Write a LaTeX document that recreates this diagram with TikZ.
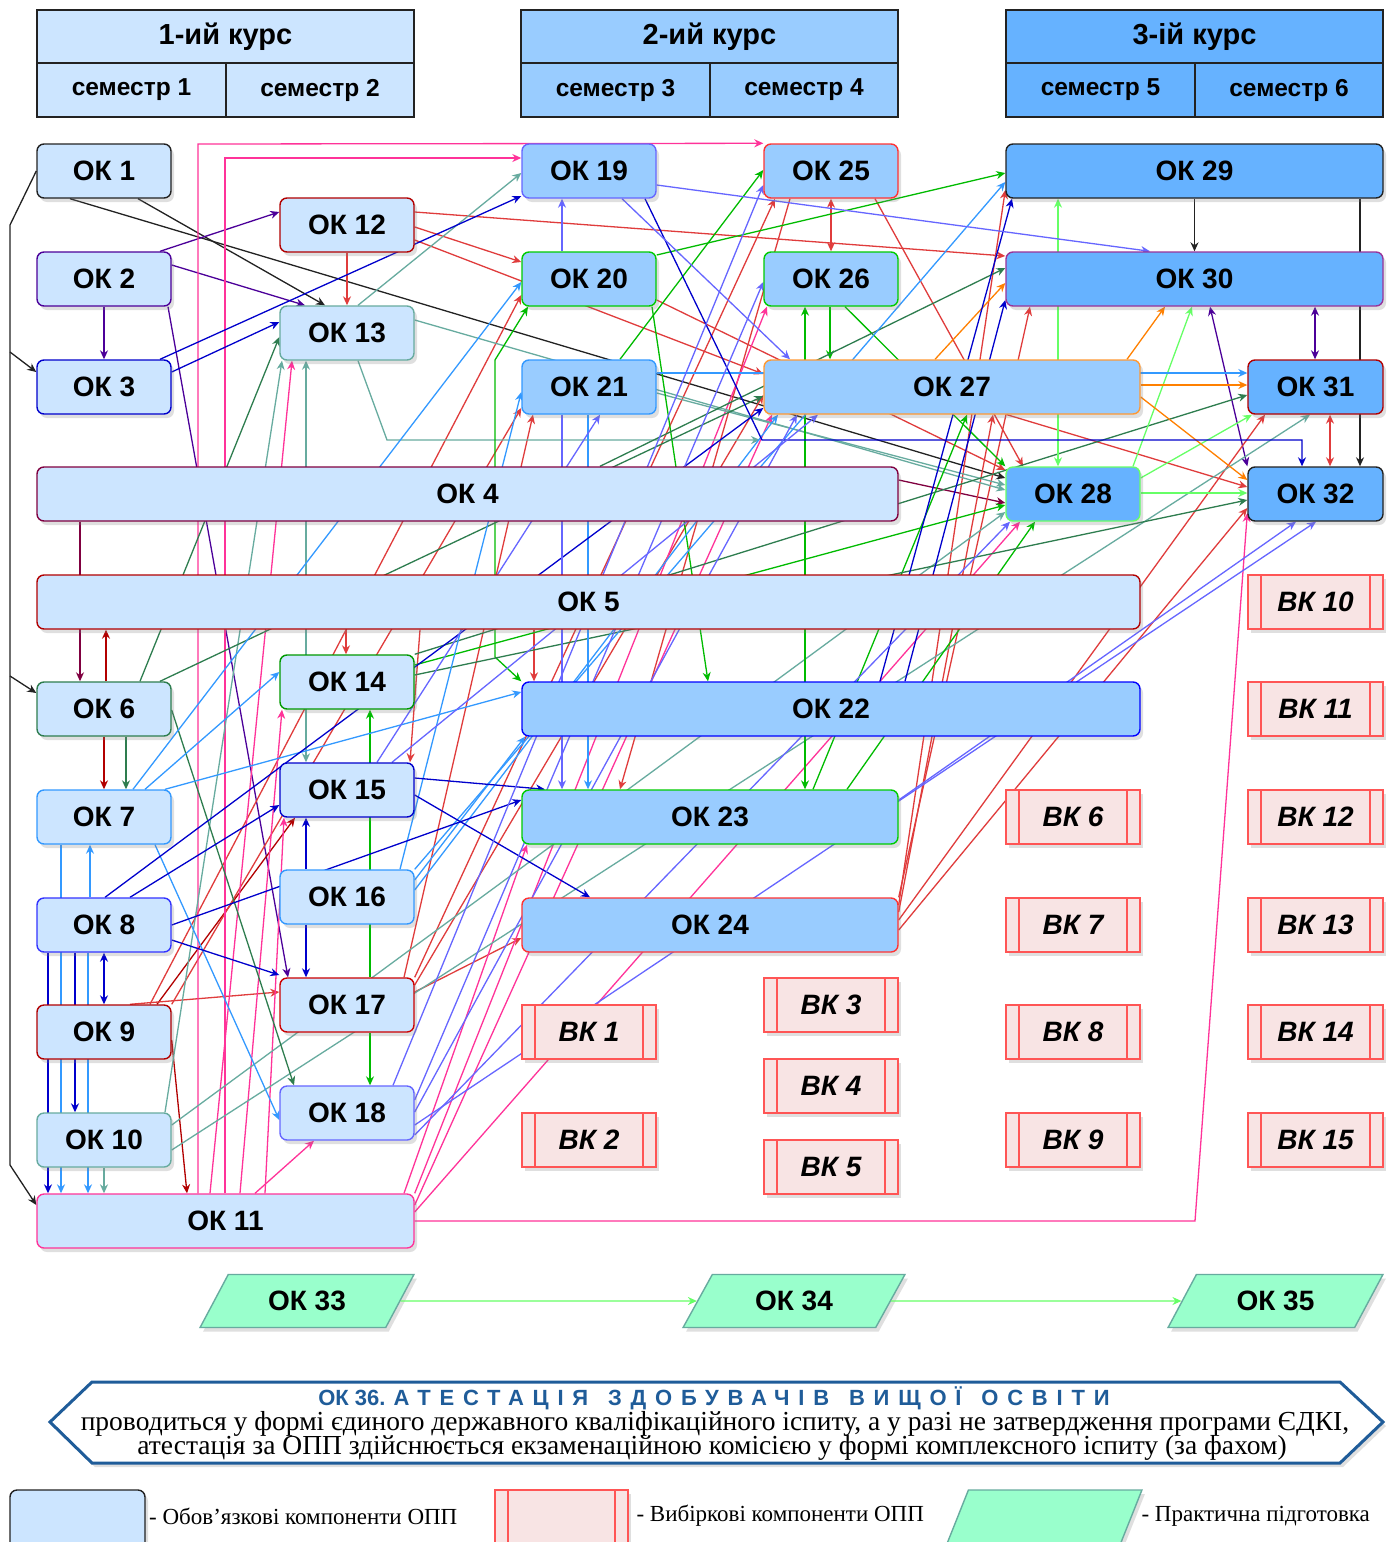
\documentclass[tikz,border=0pt]{standalone}
\usepackage{fontspec}
\setmainfont{Liberation Sans}
\newfontfamily\serifnote{Liberation Serif}
\newfontfamily\spacedfont[LetterSpace=40]{Liberation Sans}
\usetikzlibrary{positioning,arrows.meta,shapes.geometric,shadows,backgrounds}

\definecolor{BoxLight}{HTML}{CCE5FF}
\definecolor{BoxMid}{HTML}{99CCFF}
\definecolor{BoxDeep}{HTML}{66B2FF}
\definecolor{VkFill}{HTML}{F8E4E4}
\definecolor{VkLine}{HTML}{FF5555}
\definecolor{PracFill}{HTML}{99FFCC}
\definecolor{PracLine}{HTML}{67AB9F}
\definecolor{HexBlue}{HTML}{1F5C99}
\definecolor{LnBlack}{HTML}{222222}
\definecolor{LnPurple}{HTML}{4C0099}
\definecolor{LnMaroon}{HTML}{800040}
\definecolor{LnDarkRed}{HTML}{B20000}
\definecolor{LnRed}{HTML}{E03C3C}
\definecolor{LnPink}{HTML}{FF3399}
\definecolor{LnBlue}{HTML}{0000CC}
\definecolor{LnViolet}{HTML}{6666FF}
\definecolor{LnLightBlue}{HTML}{3399FF}
\definecolor{LnGreen}{HTML}{00BB00}
\definecolor{LnDarkGreen}{HTML}{2E7D4F}
\definecolor{LnTeal}{HTML}{67AB9F}
\definecolor{LnLightGreen}{HTML}{66FF66}
\definecolor{LnOrange}{HTML}{FF8000}

\tikzset{
  okbox/.style={draw=#1, line width=1.4pt, rounded corners=7pt, fill=BoxLight,
    minimum width=134pt, minimum height=54pt, inner sep=0pt,
    font=\fontsize{28}{30}\selectfont\bfseries,
    drop shadow={shadow xshift=3pt, shadow yshift=-4pt, opacity=0.25}},
  okmid/.style={okbox=#1, fill=BoxMid},
  okdeep/.style={okbox=#1, fill=BoxDeep},
  vkbox/.style={draw=VkLine, line width=1.4pt, fill=VkFill,
    minimum width=134pt, minimum height=54pt, inner sep=0pt,
    font=\fontsize{28}{30}\selectfont\bfseries\itshape,
    drop shadow={shadow xshift=3pt, shadow yshift=-4pt, opacity=0.25},
    path picture={\draw[VkLine, line width=1.2pt]
      ([xshift=13pt]path picture bounding box.north west) -- ([xshift=13pt]path picture bounding box.south west)
      ([xshift=-13pt]path picture bounding box.north east) -- ([xshift=-13pt]path picture bounding box.south east);}},
  prac/.style={trapezium, trapezium left angle=55, trapezium right angle=125,
    trapezium stretches=true, draw=PracLine, fill=PracFill, line width=1.4pt,
    minimum width=214pt, minimum height=53pt, inner sep=0pt,
    font=\fontsize{28}{30}\selectfont\bfseries,
    drop shadow={shadow xshift=3pt, shadow yshift=-4pt, opacity=0.25}},
  hdr/.style={draw=LnBlack, line width=2.2pt, inner sep=0pt, outer sep=0pt,
    minimum height=54pt, font=\fontsize{24.5}{26}\selectfont\bfseries},
  ln/.style={line width=1.3pt, -{Stealth[length=9pt,width=8pt]}},
  lnn/.style={line width=1.3pt, {Stealth[length=9pt,width=8pt]}-{Stealth[length=9pt,width=8pt]}},
  legtext/.style={anchor=west, font=\serifnote\fontsize{23}{25}\selectfont},
  notetext/.style={inner sep=0pt, font=\serifnote\fontsize{27.5}{28}\selectfont},
}

\begin{document}
\begin{tikzpicture}[x=1pt, y=-1pt]
  \useasboundingbox (0,0) rectangle (1395,1542);

  % Course headers
  \begin{scope}[drop shadow={shadow xshift=3pt, shadow yshift=-4pt, opacity=0.25}]
    \node[hdr, fill=BoxLight, minimum width=377pt, minimum height=53pt,
      font=\fontsize{29}{31}\selectfont\bfseries] (kurs1) at (225.5,36.5) {1-ий курс};
    \node[hdr, fill=BoxLight, minimum width=189pt, anchor=north west] (sem1) at (kurs1.south west) {семестр 1};
    \node[hdr, fill=BoxLight, minimum width=188pt, right=0pt of sem1] (sem2) {семестр 2};
    \node[hdr, fill=BoxMid, minimum width=377pt, minimum height=53pt,
      font=\fontsize{29}{31}\selectfont\bfseries] (kurs2) at (709.5,36.5) {2-ий курс};
    \node[hdr, fill=BoxMid, minimum width=189pt, anchor=north west] (sem3) at (kurs2.south west) {семестр 3};
    \node[hdr, fill=BoxMid, minimum width=188pt, right=0pt of sem3] (sem4) {семестр 4};
    \node[hdr, fill=BoxDeep, minimum width=377pt, minimum height=53pt,
      font=\fontsize{29}{31}\selectfont\bfseries] (kurs3) at (1194.5,36.5) {3-ій курс};
    \node[hdr, fill=BoxDeep, minimum width=189pt, anchor=north west] (sem5) at (kurs3.south west) {семестр 5};
    \node[hdr, fill=BoxDeep, minimum width=188pt, right=0pt of sem5] (sem6) {семестр 6};
  \end{scope}

  % Semester 1
  \node[okbox=LnBlack] (ok1) at (104,171) {ОК 1};
  \node[okbox=LnPurple] (ok2) at (104,279) {ОК 2};
  \node[okbox=LnBlue] (ok3) at (104,387) {ОК 3};
  \node[okbox=LnMaroon, minimum width=861pt] (ok4) at (467.5,494) {ОК 4};
  \node[okbox={red!70!black}, minimum width=1103pt] (ok5) at (588.5,602) {ОК 5};
  \node[okbox=LnDarkGreen] (ok6) at (104,709) {ОК 6};
  \node[okbox=LnLightBlue] (ok7) at (104,817) {ОК 7};
  \node[okbox={blue!80}] (ok8) at (104,925) {ОК 8};
  \node[okbox={red!70!black}] (ok9) at (104,1032) {ОК 9};
  \node[okbox=LnTeal] (ok10) at (104,1140) {ОК 10};
  \node[okbox=LnPink, minimum width=377pt] (ok11) at (225.5,1221) {ОК 11};

  % Semester 2
  \node[okbox={red!70!black}] (ok12) at (347,225) {ОК 12};
  \node[okbox=LnTeal] (ok13) at (347,333) {ОК 13};
  \node[okbox={green!60!black}] (ok14) at (347,682) {ОК 14};
  \node[okbox={blue!80!black}] (ok15) at (347,790) {ОК 15};
  \node[okbox=LnLightBlue] (ok16) at (347,897) {ОК 16};
  \node[okbox={red!80!black}] (ok17) at (347,1005) {ОК 17};
  \node[okbox=LnViolet] (ok18) at (347,1113) {ОК 18};

  % Semesters 3 and 4
  \node[okmid=LnViolet] (ok19) at (589,171) {ОК 19};
  \node[okmid={green!80!black}] (ok20) at (589,279) {ОК 20};
  \node[okmid=LnLightBlue] (ok21) at (589,387) {ОК 21};
  \node[okmid={blue}, minimum width=618pt] (ok22) at (831,709) {ОК 22};
  \node[okmid={green!80!black}, minimum width=376pt] (ok23) at (710,817) {ОК 23};
  \node[okmid={red!80}, minimum width=376pt] (ok24) at (710,925) {ОК 24};
  \node[okmid={red!80}] (ok25) at (831,171) {ОК 25};
  \node[okmid={green!80!black}] (ok26) at (831,279) {ОК 26};
  \node[okmid={orange!80}, minimum width=376pt] (ok27) at (952,387) {ОК 27};

  % Semesters 5 and 6
  \node[okdeep=LnLightGreen] (ok28) at (1073,494) {ОК 28};
  \node[okdeep=LnBlack, minimum width=377pt] (ok29) at (1194.5,171) {ОК 29};
  \node[okdeep={violet!80}, minimum width=377pt] (ok30) at (1194.5,279) {ОК 30};
  \node[okdeep={red!70!black}, minimum width=135pt] (ok31) at (1315.5,387) {ОК 31};
  \node[okdeep=LnBlack, minimum width=135pt] (ok32) at (1315.5,494) {ОК 32};

  % Elective components
  \node[vkbox] (vk1) at (589,1032) {ВК 1};
  \node[vkbox] (vk2) at (589,1140) {ВК 2};
  \node[vkbox] (vk3) at (831,1005) {ВК 3};
  \node[vkbox] (vk4) at (831,1086) {ВК 4};
  \node[vkbox] (vk5) at (831,1167) {ВК 5};
  \node[vkbox] (vk6) at (1073,817) {ВК 6};
  \node[vkbox] (vk7) at (1073,925) {ВК 7};
  \node[vkbox] (vk8) at (1073,1032) {ВК 8};
  \node[vkbox] (vk9) at (1073,1140) {ВК 9};
  \node[vkbox, minimum width=135pt] (vk10) at (1315.5,602) {ВК 10};
  \node[vkbox, minimum width=135pt] (vk11) at (1315.5,709) {ВК 11};
  \node[vkbox, minimum width=135pt] (vk12) at (1315.5,817) {ВК 12};
  \node[vkbox, minimum width=135pt] (vk13) at (1315.5,925) {ВК 13};
  \node[vkbox, minimum width=135pt] (vk14) at (1315.5,1032) {ВК 14};
  \node[vkbox, minimum width=135pt] (vk15) at (1315.5,1140) {ВК 15};

  % Practical training
  \node[prac] (ok33) at (307,1301) {ОК 33};
  \node[prac, minimum width=222pt] (ok34) at (794,1301) {ОК 34};
  \node[prac, minimum width=215pt] (ok35) at (1275.5,1301) {ОК 35};
  \draw[ln, LnLightGreen] (ok33.east) -- (ok34.west);
  \draw[ln, LnLightGreen] (ok34.east) -- (ok35.west);

  % Attestation banner
  \draw[HexBlue, line width=3pt, fill=white,
    drop shadow={shadow xshift=3pt, shadow yshift=-4pt, opacity=0.25}]
    (50,1422) -- (92,1382) -- (1340,1382) -- (1383,1422) -- (1340,1463) -- (92,1463) -- cycle;
  \node[inner sep=0pt, text=HexBlue, font=\fontsize{22}{24}\selectfont\bfseries] (attTitle) at (714,1398)
    {ОК 36. {\spacedfont\bfseries АТЕСТАЦІЯ\hspace{0.9em}ЗДОБУВАЧІВ\hspace{0.9em}ВИЩОЇ\hspace{0.9em}ОСВІТИ}};
  \node[notetext] (attLineA) at (715,1424)
    {проводиться у формі єдиного державного кваліфікаційного іспиту, а у разі не затвердження програми ЄДКІ,};
  \node[notetext] (attLineB) at (712,1448)
    {атестація за ОПП здійснюється екзаменаційною комісією у формі комплексного іспиту (за фахом)};

  % Legend
  \node[okbox=LnBlack, minimum width=135pt, minimum height=64pt] (legOk) at (77.5,1522) {};
  \node[legtext] (legOkText) at (legOk.east |- 0,1516) {- Обов’язкові компоненти ОПП};
  \node[vkbox, minimum width=133pt, minimum height=64pt] (legVk) at (561.5,1522) {};
  \node[legtext] (legVkText) at (633,1516) {- Вибіркові компоненти ОПП};
  \node[prac, minimum width=200pt, minimum height=66pt] (legPrac) at (1042,1523) {\phantom{ОК 33}};
  \node[legtext] (legPracText) at (1138,1516) {- Практична підготовка};

  \coordinate (busTop) at (10,225);
  \coordinate (busEnd) at (10,1165);
  \coordinate (bus3) at (10,352);
  \coordinate (bus6) at (10,676);
  \coordinate (tealEnd) at (760,440);

  \begin{scope}[on background layer]
    \fill[white] (0,0) rectangle (1395,1542);
    % black
    \draw[ln, LnBlack] (ok1.west) -- (busTop) -- (busEnd) -- (ok11.west |- 0,1205);
    \draw[ln, LnBlack] (bus3) -- (ok3.west |- 0,372);
    \draw[ln, LnBlack] (bus6) -- (ok6.west |- 0,693);
    \draw[ln, LnBlack] (138,0 |- ok1.south) -- (325,0 |- ok13.north);
    \draw[ln, LnBlack] (70,0 |- ok1.south) -- (ok28.west |- 0,478);
    \draw[ln, LnBlack] (ok29.south) -- (ok30.north);
    \draw[ln, LnBlack] (1360,0 |- ok29.south) -- (1360,0 |- ok32.north);
    % purple
    \draw[ln, LnPurple] (160,0 |- ok2.north) -- (ok12.west |- 0,212);
    \draw[ln, LnPurple] (ok2.east |- 0,265) -- (305,0 |- ok13.north);
    \draw[ln, LnPurple] (ok2.south) -- (ok3.north);
    \draw[ln, LnPurple] (168,0 |- ok2.south) -- (288,0 |- ok17.north);
    \draw[lnn, LnPurple] (1315,0 |- ok30.south) -- (1315,0 |- ok31.north);
    \draw[lnn, LnPurple] (1210,0 |- ok30.south) -- (ok32.north west);
    % maroon and dark red
    \draw[ln, LnMaroon] (80,0 |- ok4.south) -- (80,0 |- ok6.north);
    \draw[ln, LnMaroon] (ok4.east |- 0,480) -- (ok28.west |- 0,503);
    \draw[ln, LnDarkRed] (106,0 |- ok6.north) -- (106,0 |- ok5.south);
    \draw[ln, LnDarkRed] (104,0 |- ok6.south) -- (104,0 |- ok7.north);
    \draw[ln, LnDarkRed] (ok9.east |- 0,1040) -- (187,0 |- ok11.north);
    \draw[ln, LnDarkRed] (157,0 |- ok9.north) -- (295,0 |- ok15.south);
    % red
    \draw[ln, LnRed] (130,0 |- ok9.north) -- (ok17.west |- 0,992);
    \draw[ln, LnRed] (ok17.east |- 0,992) -- (ok24.west |- 0,938);
    \draw[ln, LnRed] (ok12.south) -- (ok13.north);
    \draw[ln, LnRed] (ok12.east |- 0,212) -- (ok30.west |- 0,256);
    \draw[ln, LnRed] (ok12.east |- 0,227) -- (ok20.west |- 0,262);
    \draw[ln, LnRed] (ok12.east |- 0,240) -- (ok27.west |- 0,374);
    \draw[ln, LnRed] (ok20.east |- 0,300) -- (ok28.west |- 0,470);
    \draw[lnn, LnRed] (ok25.south) -- (ok26.north);
    \draw[ln, LnRed] (875,0 |- ok25.south) -- (1023,0 |- ok28.north);
    \draw[ln, LnRed] (346,0 |- ok5.south) -- (346,0 |- ok14.north);
    \draw[ln, LnRed] (534,0 |- ok5.south) -- (534,0 |- ok22.north);
    \draw[ln, LnRed] (420,0 |- ok5.south) -- (410,0 |- ok15.north);
    \draw[ln, LnRed] (1007,0 |- ok27.south) -- (ok32.west |- 0,487);
    \draw[lnn, LnRed] (1330,0 |- ok31.south) -- (1330,0 |- ok32.north);
    \draw[ln, LnRed] (ok24.east |- 0,905) -- (ok29.west |- 0,190);
    \draw[ln, LnRed] (ok24.north east) -- (1030,0 |- ok30.south);
    \draw[ln, LnRed] (ok24.east |- 0,912) -- (993,0 |- ok27.south);
    \draw[ln, LnRed] (ok24.east |- 0,920) -- (1265,0 |- ok31.south);
    \draw[ln, LnRed] (ok24.east |- 0,930) -- (ok32.west |- 0,508);
    \draw[ln, LnRed] (404,0 |- ok17.north) -- (533,0 |- ok21.south);
    \draw[ln, LnRed] (ok17.north east) -- (775,0 |- ok25.south);
    \draw[ln, LnRed] (150,0 |- ok9.north) -- (ok20.west |- 0,295);
    \draw[ln, LnRed] (ok9.north east) -- (ok21.west |- 0,408);
    \draw[ln, LnRed] (790,0 |- ok25.south) -- (620,0 |- ok23.north);
    \draw[ln, LnRed] (ok17.east |- 0,985) -- (ok27.west |- 0,395);
    % pink
    \draw[ln, LnPink] (198,0 |- ok11.north) -- (198,144) -- (ok25.north west);
    \draw[ln, LnPink] (225,0 |- ok11.north) -- (225,158) -- (ok19.west |- 0,158);
    \draw[ln, LnPink] (ok11.east) -- (1195,1221) -- (ok32.west |- 0,513);
    \draw[ln, LnPink] (210,0 |- ok11.north) -- (292,0 |- ok13.south);
    \draw[ln, LnPink] (240,0 |- ok11.north) -- (282,0 |- ok14.south);
    \draw[ln, LnPink] (265,0 |- ok11.north) -- (284,0 |- ok15.south);
    \draw[ln, LnPink] (255,0 |- ok11.north) -- (314,0 |- ok18.south);
    \draw[ln, LnPink] (404,0 |- ok11.north) -- (527,0 |- ok23.south);
    \draw[ln, LnPink] (ok11.north east) -- (767,0 |- ok26.south);
    \draw[ln, LnPink] (ok11.east |- 0,1205) -- (772,0 |- ok27.south);
    \draw[ln, LnPink] (ok11.east |- 0,1212) -- (1020,0 |- ok28.south);
    % teal
    \draw[ln, LnTeal] (358,0 |- ok13.north) -- (ok19.west |- 0,173);
    \draw[ln, LnTeal] (ok13.east |- 0,320) -- (ok28.west |- 0,490);
    \draw[ln, LnTeal] (358,0 |- ok13.south) -- (387,440) -- (tealEnd);
    \draw[ln, LnTeal] (165,0 |- ok10.north) -- (282,0 |- ok13.south);
    \draw[lnn, LnTeal] (306,0 |- ok13.south) -- (306,0 |- ok15.north);
    \draw[ln, LnTeal] (104,0 |- ok10.south) -- (104,0 |- ok11.north);
    \draw[ln, LnTeal] (ok10.east |- 0,1125) -- (ok28.west |- 0,512);
    \draw[ln, LnTeal] (ok10.east |- 0,1150) -- (1310,0 |- ok31.south);
    \draw[ln, LnTeal] (ok21.east |- 0,393) -- (ok28.west |- 0,485);
    % green
    \draw[lnn, LnGreen] (805,0 |- ok26.south) -- (805,0 |- ok23.north);
    \draw[ln, LnGreen] (830,0 |- ok26.south) -- (830,0 |- ok27.north);
    \draw[ln, LnGreen] (845,0 |- ok26.south) -- (ok28.north west);
    \draw[ln, LnGreen] (ok20.east |- 0,255) -- (ok29.west |- 0,173);
    \draw[ln, LnGreen] (652,0 |- ok20.south) -- (708,0 |- ok22.north);
    \draw[lnn, LnGreen] (528,0 |- ok20.south) -- (495,360) -- (495,657) -- (ok22.north west);
    \draw[ln, LnGreen] (620,0 |- ok21.north) -- (ok25.west |- 0,170);
    \draw[ln, LnGreen] (ok14.east |- 0,665) -- (ok28.west |- 0,505);
    \draw[ln, LnGreen] (370,0 |- ok17.north) -- (370,0 |- ok14.south);
    \draw[ln, LnGreen] (370,0 |- ok17.south) -- (370,0 |- ok18.north);
    \draw[ln, LnGreen] (813,0 |- ok23.north) -- (967,0 |- ok27.south);
    \draw[ln, LnGreen] (847,0 |- ok23.north) -- (1035,0 |- ok28.south);
    % dark green
    \draw[ln, LnDarkGreen] (126,0 |- ok6.south) -- (126,0 |- ok7.north);
    \draw[ln, LnDarkGreen] (ok6.east |- 0,710) -- (294,0 |- ok18.north);
    \draw[ln, LnDarkGreen] (140,0 |- ok6.north) -- (ok13.west |- 0,337);
    \draw[ln, LnDarkGreen] (160,0 |- ok6.north) -- (ok27.west |- 0,396);
    \draw[ln, LnDarkGreen] (600,0 |- ok4.north) -- (ok30.west |- 0,268);
    \draw[ln, LnDarkGreen] (ok14.north east) -- (ok31.west |- 0,395);
    \draw[ln, LnDarkGreen] (ok14.east |- 0,675) -- (ok32.west |- 0,500);
    % light green
    \draw[lnn, LnLightGreen] (1058,0 |- ok29.south) -- (1058,0 |- ok28.north);
    \draw[ln, LnLightGreen] (ok28.east |- 0,493) -- (ok32.west |- 0,493);
    \draw[ln, LnLightGreen] (ok28.east |- 0,478) -- (1252,0 |- ok31.south);
    \draw[ln, LnLightGreen] (1133,0 |- ok28.north) -- (1192,0 |- ok30.south);
    % orange
    \draw[ln, LnOrange] (ok27.east |- 0,385) -- (ok31.west |- 0,385);
    \draw[ln, LnOrange] (ok27.east |- 0,397) -- (ok32.west |- 0,480);
    \draw[ln, LnOrange] (1127,0 |- ok27.north) -- (1165,0 |- ok30.south);
    \draw[ln, LnOrange] (935,0 |- ok27.north) -- (ok30.west |- 0,283);
    % light blue
    \draw[ln, LnLightBlue] (ok21.east |- 0,373) -- (ok31.west |- 0,373);
    \draw[ln, LnLightBlue] (588,0 |- ok21.south) -- (588,0 |- ok23.north);
    \draw[ln, LnLightBlue] (133,0 |- ok7.north) -- (ok20.west |- 0,282);
    \draw[ln, LnLightBlue] (145,0 |- ok7.north) -- (ok14.west |- 0,672);
    \draw[ln, LnLightBlue] (165,0 |- ok7.north) -- (ok22.west |- 0,692);
    \draw[ln, LnLightBlue] (155,0 |- ok7.south) -- (ok18.west |- 0,1120);
    \draw[ln, LnLightBlue] (90,0 |- ok8.north) -- (90,0 |- ok7.south);
    \draw[ln, LnLightBlue] (61,0 |- ok7.south) -- (61,0 |- ok11.north);
    \draw[ln, LnLightBlue] (88,0 |- ok8.south) -- (88,0 |- ok11.north);
    \draw[ln, LnLightBlue] (ok16.east |- 0,880) -- (525,0 |- ok22.south);
    \draw[ln, LnLightBlue] (400,0 |- ok16.north) -- (ok21.west |- 0,392);
    \draw[ln, LnLightBlue] (ok16.east |- 0,890) -- (778,0 |- ok27.south);
    \draw[ln, LnLightBlue] (ok16.north east) -- (ok29.west |- 0,182);
    % blue
    \draw[ln, LnBlue] (ok3.east |- 0,372) -- (ok13.west |- 0,322);
    \draw[ln, LnBlue] (160,0 |- ok3.north) -- (ok19.west |- 0,196);
    \draw[lnn, LnBlue] (104,0 |- ok8.south) -- (104,0 |- ok9.north);
    \draw[ln, LnBlue] (48,0 |- ok8.south) -- (48,0 |- ok11.north);
    \draw[ln, LnBlue] (75,0 |- ok8.south) -- (75,0 |- ok10.north);
    \draw[ln, LnBlue] (ok15.east |- 0,778) -- (545,0 |- ok23.north);
    \draw[ln, LnBlue] (ok15.east |- 0,795) -- (590,0 |- ok24.north);
    \draw[ln, LnBlue] (306,0 |- ok16.north) -- (306,0 |- ok15.south);
    \draw[ln, LnBlue] (306,0 |- ok16.south) -- (306,0 |- ok17.north);
    \draw[ln, LnBlue] (ok8.east |- 0,940) -- (ok17.west |- 0,975);
    \draw[ln, LnBlue] (130,0 |- ok8.north) -- (ok15.west |- 0,805);
    \draw[ln, LnBlue] (ok8.east |- 0,925) -- (ok23.west |- 0,800);
    \draw[ln, LnBlue] (105,0 |- ok8.north) -- (ok27.west |- 0,408);
    \draw[ln, LnBlue] (645,0 |- ok19.south) -- (762,440) -- (1302,440) -- (1302,0 |- ok32.north);
    \draw[ln, LnBlue] (880,0 |- ok22.north) -- (1012,0 |- ok29.south);
    \draw[ln, LnBlue] (905,0 |- ok22.north) -- (ok30.west |- 0,300);
    % violet
    \draw[ln, LnViolet] (622,0 |- ok19.south) -- (790,0 |- ok27.north);
    \draw[ln, LnViolet] (ok19.east |- 0,185) -- (1150,0 |- ok30.north);
    \draw[ln, LnViolet] (562,0 |- ok20.north) -- (562,0 |- ok19.south);
    \draw[ln, LnViolet] (562,0 |- ok21.south) -- (562,0 |- ok23.north);
    \draw[ln, LnViolet] (ok23.east |- 0,800) -- (1296,0 |- ok32.south);
    \draw[ln, LnViolet] (ok18.east |- 0,1125) -- (1316,0 |- ok32.south);
    \draw[ln, LnViolet] (393,0 |- ok18.north) -- (ok25.west |- 0,185);
    \draw[ln, LnViolet] (ok18.east |- 0,1100) -- (ok26.west |- 0,282);
    \draw[ln, LnViolet] (ok18.east |- 0,1112) -- (797,0 |- ok27.south);
    \draw[ln, LnViolet] (ok18.east |- 0,1135) -- (1010,0 |- ok28.south);
    \draw[ln, LnViolet] (377,0 |- ok15.north) -- (600,0 |- ok21.south);
    \draw[ln, LnViolet] (392,0 |- ok15.north) -- (818,0 |- ok27.south);
  \end{scope}
\end{tikzpicture}
\end{document}
